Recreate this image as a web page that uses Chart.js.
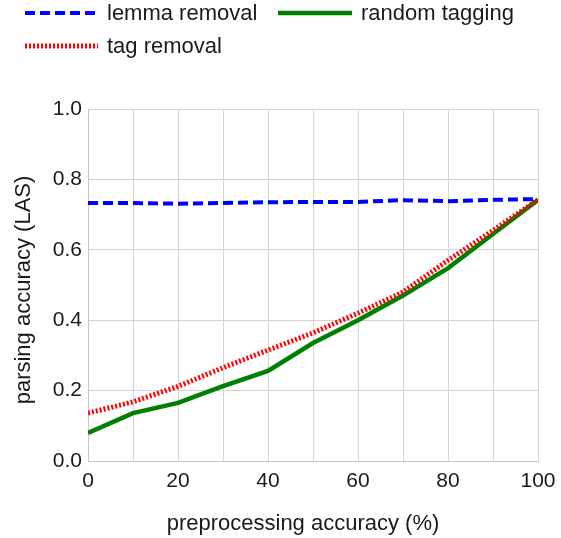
<!DOCTYPE html>
<html>
<head>
<meta charset="utf-8">
<script src="https://cdn.jsdelivr.net/npm/chart.js@4"></script>
<style>
  html, body { margin: 0; padding: 0; background: #fff; }
  #wrap { width: 561px; height: 538px; }
</style>
</head>
<body>
<div id="wrap"><canvas id="chart" width="561" height="538"></canvas></div>
<script>
var accuracy = [0, 10, 20, 30, 40, 50, 60, 70, 80, 90, 100];
var lemmaRemoval = [0.733, 0.733, 0.731, 0.733, 0.735, 0.736, 0.736, 0.741, 0.738, 0.742, 0.744];
var tagRemoval = [0.136, 0.168, 0.212, 0.265, 0.315, 0.364, 0.42, 0.48, 0.57, 0.655, 0.742];
var randomTagging = [0.08, 0.136, 0.165, 0.213, 0.256, 0.335, 0.40, 0.47, 0.548, 0.645, 0.742];
var xTitle = 'preprocessing accuracy (%)';
var yTitle = 'parsing accuracy (LAS)';

var FONT = "'Liberation Sans', Arial, sans-serif";
Chart.defaults.font.family = FONT;
Chart.defaults.color = '#222';

// legend + axis titles drawn by hand so they sit where the original has them
var legendSpots = [
  { x: 25, y: 13, len: 73 },
  { x: 25, y: 46, len: 73 },
  { x: 278, y: 13, len: 74 }
];
var topLegend = {
  id: 'topLegend',
  afterDraw: function (chart) {
    var ctx = chart.ctx;
    chart.data.datasets.forEach(function (ds, i) {
      var s = legendSpots[i];
      ctx.save();
      ctx.strokeStyle = ds.borderColor;
      ctx.lineWidth = ds.borderWidth;
      ctx.setLineDash(ds.borderDash || []);
      ctx.beginPath();
      ctx.moveTo(s.x, s.y);
      ctx.lineTo(s.x + s.len, s.y);
      ctx.stroke();
      ctx.setLineDash([]);
      ctx.fillStyle = '#1a1a1a';
      ctx.font = '22px ' + FONT;
      ctx.textBaseline = 'middle';
      ctx.fillText(ds.label, s.x + s.len + 9, s.y + 1);
      ctx.restore();
    });
    ctx.save();
    ctx.fillStyle = '#1a1a1a';
    ctx.font = '22px ' + FONT;
    ctx.textAlign = 'center';
    ctx.textBaseline = 'middle';
    ctx.fillText(xTitle, 303, 524);
    ctx.translate(24, 290);
    ctx.rotate(-Math.PI / 2);
    ctx.fillText(yTitle, 0, 0);
    ctx.restore();
  }
};

var ctx = document.getElementById("chart").getContext("2d");
var chart = new Chart(ctx, {
  type: 'line',
  data: {
    labels: accuracy,
    datasets: [
      {
        label: 'lemma removal',
        data: lemmaRemoval,
        borderColor: '#0000ff',
        borderWidth: 4,
        borderDash: [10, 5]
      },
      {
        label: 'tag removal',
        data: tagRemoval,
        borderColor: '#ff0000',
        borderWidth: 5,
        borderDash: [2, 2]
      },
      {
        label: 'random tagging',
        data: randomTagging,
        borderColor: '#008000',
        borderWidth: 4.5
      }
    ]
  },
  options: {
    responsive: false,
    animation: false,
    layout: { padding: { top: 109, right: 23, left: 0, bottom: 0 } },
    elements: { point: { radius: 0 }, line: { tension: 0, borderCapStyle: 'butt' } },
    plugins: { legend: { display: false }, tooltip: { enabled: false } },
    scales: {
      x: {
        type: 'linear',
        min: 0,
        max: 100,
        afterFit: function (s) { s.height = 77; s.paddingRight = 0; s.paddingLeft = 0; },
        grid: { color: '#d4d4d4', drawTicks: false },
        border: { color: '#c8c8c8' },
        ticks: { stepSize: 10, padding: 8, font: { size: 21 }, color: '#1a1a1a',
          callback: function (v) { return v % 20 === 0 ? v : ''; } }
      },
      y: {
        min: 0,
        max: 1,
        afterFit: function (s) { s.width = 88; s.paddingTop = 0; s.paddingBottom = 0; },
        grid: { color: '#d4d4d4', drawTicks: false },
        border: { color: '#c8c8c8' },
        ticks: { stepSize: 0.2, padding: 6, font: { size: 21 }, color: '#1a1a1a',
          callback: function (v) { return v.toFixed(1); } }
      }
    }
  },
  plugins: [topLegend]
});
</script>
</body>
</html>
